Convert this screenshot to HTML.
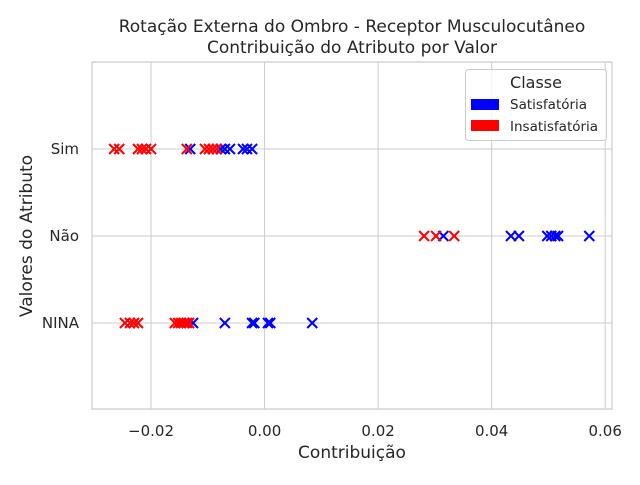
<!DOCTYPE html>
<html><head><meta charset="utf-8"><style>
body{margin:0;background:#fff}
svg{font-family:"DejaVu Sans","Liberation Sans",sans-serif}
</style></head><body>
<svg id="chart" width="640" height="480" xmlns="http://www.w3.org/2000/svg">
<text x="352" y="32" font-size="17" text-anchor="middle" fill="#262626">Rotação Externa do Ombro - Receptor Musculocutâneo</text>
<text x="352" y="53" font-size="17" text-anchor="middle" fill="#262626">Contribuição do Atributo por Valor</text>
<g id="grid"></g>
<g id="marks"></g>
<rect x="92" y="62" width="520" height="347" fill="none" stroke="#cccccc" stroke-width="1.25"/>
<text x="352" y="458" font-size="17" text-anchor="middle" fill="#262626">Contribuição</text>
<text transform="translate(32,236) rotate(-90)" font-size="17" text-anchor="middle" fill="#262626">Valores do Atributo</text>
<g>
<rect x="465.5" y="69.5" width="141" height="71" rx="3" fill="#fff" fill-opacity="0.8" stroke="#cccccc"/>
<text x="536" y="88" font-size="16" text-anchor="middle" fill="#262626">Classe</text>
<rect x="471" y="99" width="28" height="11" fill="#0000ff"/>
<text x="510" y="109" font-size="13.5" fill="#262626">Satisfatória</text>
<rect x="471" y="120" width="28" height="11" fill="#ff0000"/>
<text x="510" y="131" font-size="13.5" fill="#262626">Insatisfatória</text>
</g>
</svg>
<script>
const categories=["Sim","Não","NINA"];
const xTicks=[-0.02,0,0.02,0.04,0.06];
const xTickLabels=["−0.02","0.00","0.02","0.04","0.06"];
const simRed=[-0.0265,-0.0256,-0.0223,-0.0216,-0.0209,-0.0200,-0.0137,-0.0105,-0.0098,-0.0091,-0.0084];
const simBlue=[-0.0131,-0.0077,-0.0070,-0.0061,-0.0038,-0.0031,-0.0022];
const naoRed=[0.0281,0.0302,0.0334];
const naoBlue=[0.0315,0.0434,0.0448,0.0498,0.0505,0.0512,0.0517,0.0572];
const ninaRed=[-0.0246,-0.0237,-0.0230,-0.0223,-0.0158,-0.0152,-0.0147,-0.0142,-0.0137,-0.0133];
const ninaBlue=[-0.0126,-0.0070,-0.0022,-0.0018,0.0006,0.0010,0.0084];

const NS="http://www.w3.org/2000/svg";
const xMin=-0.0304,xMax=0.0612,L=92,R=612,T=62,B=409;
function xs(v){return L+(v-xMin)/(xMax-xMin)*(R-L);}
function ys(i){return 149+i*87;}
const grid=document.getElementById('grid'),marks=document.getElementById('marks'),svg=document.getElementById('chart');
xTicks.forEach((t,i)=>{
  const l=document.createElementNS(NS,'line');
  l.setAttribute('x1',xs(t));l.setAttribute('x2',xs(t));l.setAttribute('y1',T);l.setAttribute('y2',B);
  l.setAttribute('stroke','#cccccc');l.setAttribute('stroke-width','1');
  
  
  grid.appendChild(l);
  const tx=document.createElementNS(NS,'text');
  tx.setAttribute('x',xs(t));tx.setAttribute('y',436);tx.setAttribute('font-size','15');
  tx.setAttribute('text-anchor','middle');tx.setAttribute('fill','#262626');
  tx.textContent=xTickLabels[i];
  
  
  svg.appendChild(tx);
});
categories.forEach((c,i)=>{
  const l=document.createElementNS(NS,'line');
  l.setAttribute('x1',L);l.setAttribute('x2',R);l.setAttribute('y1',ys(i));l.setAttribute('y2',ys(i));
  l.setAttribute('stroke','#cccccc');l.setAttribute('stroke-width','1');
  
  
  grid.appendChild(l);
  const tx=document.createElementNS(NS,'text');
  tx.setAttribute('x',79);tx.setAttribute('y',ys(i)+5);tx.setAttribute('font-size','15');
  tx.setAttribute('text-anchor','end');tx.setAttribute('fill','#262626');
  tx.textContent=c;
  
  
  svg.appendChild(tx);
});
function drawX(vals,row,color){
  vals.forEach(v=>{
    const x=xs(v),y=ys(row),s=5;
    const p=document.createElementNS(NS,'path');
    p.setAttribute('d',`M${x-s},${y-s}L${x+s},${y+s}M${x-s},${y+s}L${x+s},${y-s}`);
    p.setAttribute('stroke',color);p.setAttribute('stroke-width','2');
    
    
    marks.appendChild(p);
  });
}
drawX(simBlue,0,'#0000ff');drawX(simRed,0,'#ff0000');
drawX(naoBlue,1,'#0000ff');drawX(naoRed,1,'#ff0000');
drawX(ninaBlue,2,'#0000ff');drawX(ninaRed,2,'#ff0000');
</script>
</body></html>
